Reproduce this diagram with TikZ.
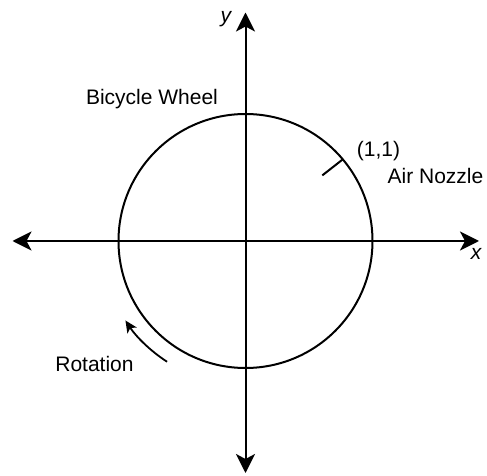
\documentclass[tikz,border=0pt]{standalone}
\usepackage{fontspec}
\setmainfont{Liberation Sans}
\usetikzlibrary{arrows.meta}

\begin{document}
\begin{tikzpicture}[
    x=1pt, y=1pt,
    axis/.style={{Stealth[length=19pt, width=19pt, inset=5pt]}-{Stealth[length=19pt, width=19pt, inset=5pt]},
                 line width=2pt, black},
    wheelbox/.style={circle, draw, line width=2pt, minimum size=254pt, inner sep=0pt, outer sep=0pt},
    lbl/.style={anchor=base, font=\fontsize{21}{25}\selectfont, inner sep=0pt},
    rot/.style={-{Stealth[length=12pt, width=11pt, inset=3pt]}, line width=1.8pt}
]
\useasboundingbox (-245.5,-235) rectangle (241.5,241);

\coordinate (west) at (-233,0);
\coordinate (east) at (233.5,0);
\coordinate (south) at (0,-232);
\coordinate (north) at (0,228.5);
\coordinate (nozzle) at (40.5:101);
\coordinate (rotstart) at (-123:144);

\node[wheelbox] (wheel) at (0,0) {};

\draw[axis] (west) -- (east);
\draw[axis] (south) -- (north);
\draw[line width=2pt] (wheel.40.5) -- (nozzle);
\draw[rot] (rotstart) arc[start angle=-123, end angle=-146.5, radius=144];

\node[lbl] (wheellbl) at (-93.5,136) {Bicycle Wheel};
\node[lbl] (pointlbl) at (133,84) {(1,1)};
\node[lbl] (nozzlelbl) at (190,57) {Air Nozzle};
\node[lbl] (rotlbl) at (-151,-130.7) {Rotation};
\node[lbl, font=\fontsize{21}{25}\selectfont\itshape] (xlbl) at (230.5,-19) {x};
\node[lbl, font=\fontsize{21}{25}\selectfont\itshape] (ylbl) at (-19.5,218.3) {y};
\end{tikzpicture}
\end{document}
